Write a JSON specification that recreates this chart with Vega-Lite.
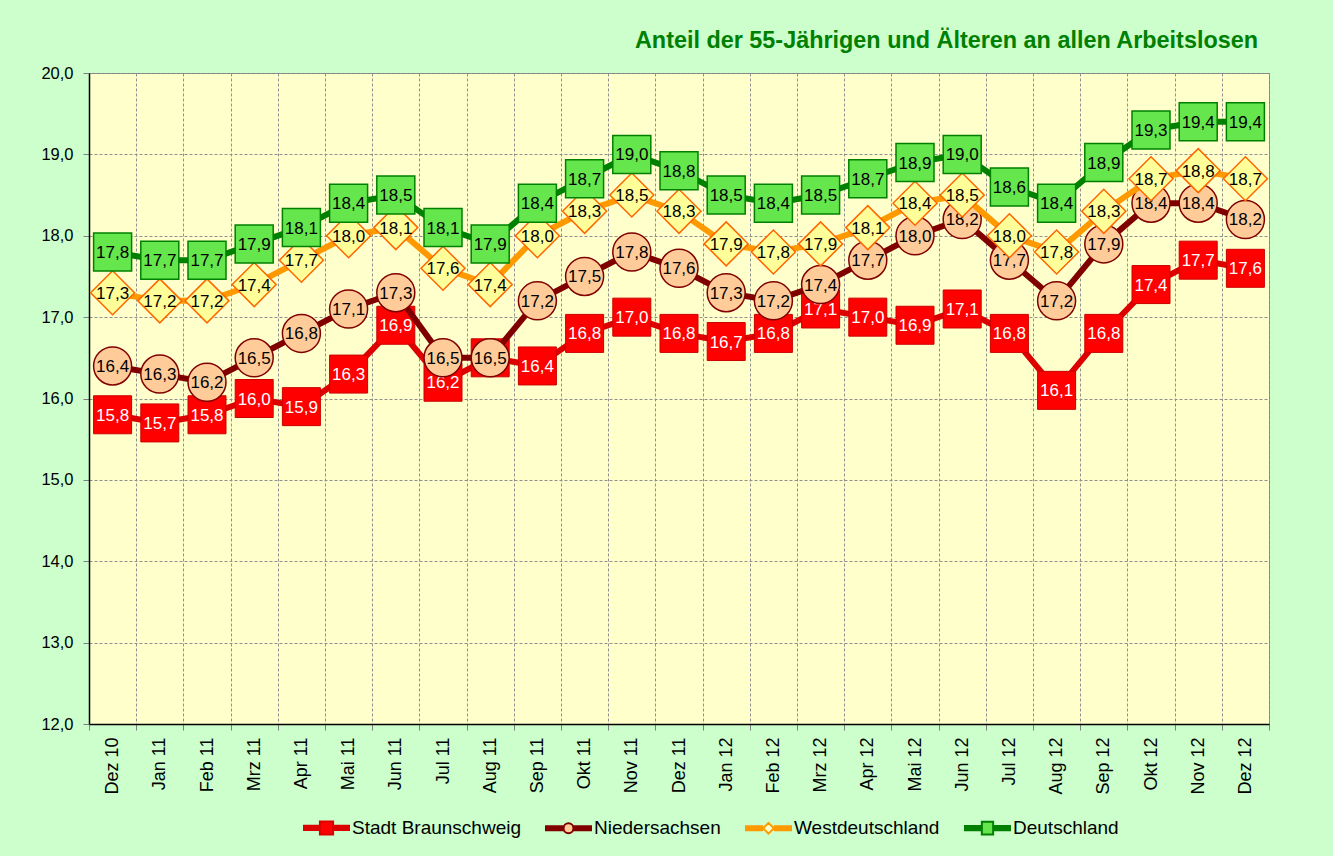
{
  "$schema": "https://vega.github.io/schema/vega-lite/v6.json",
  "width": 1180,
  "height": 651,
  "autosize": {"type": "none"},
  "padding": {"left": 89, "top": 73, "right": 64, "bottom": 132},
  "background": "#CCFFCC",
  "title": {
    "text": "Anteil der 55-Jährigen und Älteren an allen Arbeitslosen",
    "anchor": "end", "frame": "group", "baseline": "alphabetic", "offset": 25, "dx": -11, "dy": 31,
    "font": "Liberation Sans", "fontSize": 23.4, "fontWeight": "bold", "color": "#008000"
  },
  "data": {"values": [
    {"monat":"Dez 10","reihe":"Stadt Braunschweig","wert":15.8},{"monat":"Jan 11","reihe":"Stadt Braunschweig","wert":15.7},{"monat":"Feb 11","reihe":"Stadt Braunschweig","wert":15.8},{"monat":"Mrz 11","reihe":"Stadt Braunschweig","wert":16.0},{"monat":"Apr 11","reihe":"Stadt Braunschweig","wert":15.9},{"monat":"Mai 11","reihe":"Stadt Braunschweig","wert":16.3},{"monat":"Jun 11","reihe":"Stadt Braunschweig","wert":16.9},{"monat":"Jul 11","reihe":"Stadt Braunschweig","wert":16.2},{"monat":"Aug 11","reihe":"Stadt Braunschweig","wert":16.5},{"monat":"Sep 11","reihe":"Stadt Braunschweig","wert":16.4},{"monat":"Okt 11","reihe":"Stadt Braunschweig","wert":16.8},{"monat":"Nov 11","reihe":"Stadt Braunschweig","wert":17.0},{"monat":"Dez 11","reihe":"Stadt Braunschweig","wert":16.8},{"monat":"Jan 12","reihe":"Stadt Braunschweig","wert":16.7},{"monat":"Feb 12","reihe":"Stadt Braunschweig","wert":16.8},{"monat":"Mrz 12","reihe":"Stadt Braunschweig","wert":17.1},{"monat":"Apr 12","reihe":"Stadt Braunschweig","wert":17.0},{"monat":"Mai 12","reihe":"Stadt Braunschweig","wert":16.9},{"monat":"Jun 12","reihe":"Stadt Braunschweig","wert":17.1},{"monat":"Jul 12","reihe":"Stadt Braunschweig","wert":16.8},{"monat":"Aug 12","reihe":"Stadt Braunschweig","wert":16.1},{"monat":"Sep 12","reihe":"Stadt Braunschweig","wert":16.8},{"monat":"Okt 12","reihe":"Stadt Braunschweig","wert":17.4},{"monat":"Nov 12","reihe":"Stadt Braunschweig","wert":17.7},{"monat":"Dez 12","reihe":"Stadt Braunschweig","wert":17.6},
    {"monat":"Dez 10","reihe":"Niedersachsen","wert":16.4},{"monat":"Jan 11","reihe":"Niedersachsen","wert":16.3},{"monat":"Feb 11","reihe":"Niedersachsen","wert":16.2},{"monat":"Mrz 11","reihe":"Niedersachsen","wert":16.5},{"monat":"Apr 11","reihe":"Niedersachsen","wert":16.8},{"monat":"Mai 11","reihe":"Niedersachsen","wert":17.1},{"monat":"Jun 11","reihe":"Niedersachsen","wert":17.3},{"monat":"Jul 11","reihe":"Niedersachsen","wert":16.5},{"monat":"Aug 11","reihe":"Niedersachsen","wert":16.5},{"monat":"Sep 11","reihe":"Niedersachsen","wert":17.2},{"monat":"Okt 11","reihe":"Niedersachsen","wert":17.5},{"monat":"Nov 11","reihe":"Niedersachsen","wert":17.8},{"monat":"Dez 11","reihe":"Niedersachsen","wert":17.6},{"monat":"Jan 12","reihe":"Niedersachsen","wert":17.3},{"monat":"Feb 12","reihe":"Niedersachsen","wert":17.2},{"monat":"Mrz 12","reihe":"Niedersachsen","wert":17.4},{"monat":"Apr 12","reihe":"Niedersachsen","wert":17.7},{"monat":"Mai 12","reihe":"Niedersachsen","wert":18.0},{"monat":"Jun 12","reihe":"Niedersachsen","wert":18.2},{"monat":"Jul 12","reihe":"Niedersachsen","wert":17.7},{"monat":"Aug 12","reihe":"Niedersachsen","wert":17.2},{"monat":"Sep 12","reihe":"Niedersachsen","wert":17.9},{"monat":"Okt 12","reihe":"Niedersachsen","wert":18.4},{"monat":"Nov 12","reihe":"Niedersachsen","wert":18.4},{"monat":"Dez 12","reihe":"Niedersachsen","wert":18.2},
    {"monat":"Dez 10","reihe":"Westdeutschland","wert":17.3},{"monat":"Jan 11","reihe":"Westdeutschland","wert":17.2},{"monat":"Feb 11","reihe":"Westdeutschland","wert":17.2},{"monat":"Mrz 11","reihe":"Westdeutschland","wert":17.4},{"monat":"Apr 11","reihe":"Westdeutschland","wert":17.7},{"monat":"Mai 11","reihe":"Westdeutschland","wert":18.0},{"monat":"Jun 11","reihe":"Westdeutschland","wert":18.1},{"monat":"Jul 11","reihe":"Westdeutschland","wert":17.6},{"monat":"Aug 11","reihe":"Westdeutschland","wert":17.4},{"monat":"Sep 11","reihe":"Westdeutschland","wert":18.0},{"monat":"Okt 11","reihe":"Westdeutschland","wert":18.3},{"monat":"Nov 11","reihe":"Westdeutschland","wert":18.5},{"monat":"Dez 11","reihe":"Westdeutschland","wert":18.3},{"monat":"Jan 12","reihe":"Westdeutschland","wert":17.9},{"monat":"Feb 12","reihe":"Westdeutschland","wert":17.8},{"monat":"Mrz 12","reihe":"Westdeutschland","wert":17.9},{"monat":"Apr 12","reihe":"Westdeutschland","wert":18.1},{"monat":"Mai 12","reihe":"Westdeutschland","wert":18.4},{"monat":"Jun 12","reihe":"Westdeutschland","wert":18.5},{"monat":"Jul 12","reihe":"Westdeutschland","wert":18.0},{"monat":"Aug 12","reihe":"Westdeutschland","wert":17.8},{"monat":"Sep 12","reihe":"Westdeutschland","wert":18.3},{"monat":"Okt 12","reihe":"Westdeutschland","wert":18.7},{"monat":"Nov 12","reihe":"Westdeutschland","wert":18.8},{"monat":"Dez 12","reihe":"Westdeutschland","wert":18.7},
    {"monat":"Dez 10","reihe":"Deutschland","wert":17.8},{"monat":"Jan 11","reihe":"Deutschland","wert":17.7},{"monat":"Feb 11","reihe":"Deutschland","wert":17.7},{"monat":"Mrz 11","reihe":"Deutschland","wert":17.9},{"monat":"Apr 11","reihe":"Deutschland","wert":18.1},{"monat":"Mai 11","reihe":"Deutschland","wert":18.4},{"monat":"Jun 11","reihe":"Deutschland","wert":18.5},{"monat":"Jul 11","reihe":"Deutschland","wert":18.1},{"monat":"Aug 11","reihe":"Deutschland","wert":17.9},{"monat":"Sep 11","reihe":"Deutschland","wert":18.4},{"monat":"Okt 11","reihe":"Deutschland","wert":18.7},{"monat":"Nov 11","reihe":"Deutschland","wert":19.0},{"monat":"Dez 11","reihe":"Deutschland","wert":18.8},{"monat":"Jan 12","reihe":"Deutschland","wert":18.5},{"monat":"Feb 12","reihe":"Deutschland","wert":18.4},{"monat":"Mrz 12","reihe":"Deutschland","wert":18.5},{"monat":"Apr 12","reihe":"Deutschland","wert":18.7},{"monat":"Mai 12","reihe":"Deutschland","wert":18.9},{"monat":"Jun 12","reihe":"Deutschland","wert":19.0},{"monat":"Jul 12","reihe":"Deutschland","wert":18.6},{"monat":"Aug 12","reihe":"Deutschland","wert":18.4},{"monat":"Sep 12","reihe":"Deutschland","wert":18.9},{"monat":"Okt 12","reihe":"Deutschland","wert":19.3},{"monat":"Nov 12","reihe":"Deutschland","wert":19.4},{"monat":"Dez 12","reihe":"Deutschland","wert":19.4}
  ]},
  "encoding": {
    "x": {
      "field": "monat", "type": "nominal", "title": null,
      "scale": {"type": "band", "paddingInner": 0, "paddingOuter": 0,
        "domain": ["Dez 10","Jan 11","Feb 11","Mrz 11","Apr 11","Mai 11","Jun 11","Jul 11","Aug 11","Sep 11","Okt 11","Nov 11","Dez 11","Jan 12","Feb 12","Mrz 12","Apr 12","Mai 12","Jun 12","Jul 12","Aug 12","Sep 12","Okt 12","Nov 12","Dez 12"]},
      "axis": {
        "labelAngle": -90, "labelFontSize": 18, "labelColor": "#000000", "labelPadding": 7,
        "tickBand": "extent", "tickSize": 6, "tickColor": "#808080",
        "domainColor": "#000000", "domainWidth": 1.5,
        "grid": true, "gridColor": "#909090", "gridDash": [3, 2], "gridWidth": 1
      }
    },
    "y": {
      "field": "wert", "type": "quantitative", "title": null,
      "scale": {"domain": [12, 20], "nice": false, "zero": false},
      "axis": {
        "values": [12, 13, 14, 15, 16, 17, 18, 19, 20], "format": ".1f",
        "labelFontSize": 16.5, "labelColor": "#000000", "labelPadding": 10,
        "tickSize": 6, "tickColor": "#808080",
        "domainColor": "#000000", "domainWidth": 1.5,
        "grid": true, "gridColor": "#909090", "gridDash": [3, 2], "gridWidth": 1
      }
    }
  },
  "layer": [
    {
      "transform": [{"filter": "datum.reihe === 'Stadt Braunschweig'"}],
      "layer": [
        {"mark": {"type": "line", "strokeWidth": 6},
         "encoding": {"color": {"field": "reihe", "type": "nominal",
           "scale": {"domain": ["Stadt Braunschweig", "Niedersachsen", "Westdeutschland", "Deutschland"], "range": ["#DD0000", "#800000", "#FF9900", "#008000"]},
           "legend": {"orient": "none", "legendX": 213, "legendY": 730, "direction": "horizontal", "title": null,
             "symbolSize": 2209, "symbolStrokeWidth": 2, "symbolOpacity": 1, "labelFont": "Liberation Sans", "labelFontSize": 19, "labelColor": "#000000", "labelOffset": 1, "columnPadding": 20, "labelLimit": 400,
             "symbolType": {"expr": "datum.value === 'Niedersachsen' ? 'M-1,0H-0.21M-1,0.045H-0.21M-1,-0.045H-0.21M-1,0.09H-0.21M-1,-0.09H-0.21M0.21,0H1M0.21,0.045H1M0.21,-0.045H1M0.21,0.09H1M0.21,-0.09H1M0.21,0A0.21,0.21,0,1,1,-0.21,0A0.21,0.21,0,1,1,0.21,0Z' : datum.value === 'Westdeutschland' ? 'M-1,0H-0.23M-1,0.045H-0.23M-1,-0.045H-0.23M-1,0.09H-0.23M-1,-0.09H-0.23M0.23,0H1M0.23,0.045H1M0.23,-0.045H1M0.23,0.09H1M0.23,-0.09H1M0,-0.23L0.23,0L0,0.23L-0.23,0Z' : datum.value === 'Deutschland' ? 'M-1,0H-0.24M-1,0.045H-0.24M-1,-0.045H-0.24M-1,0.09H-0.24M-1,-0.09H-0.24M0.24,0H1M0.24,0.045H1M0.24,-0.045H1M0.24,0.09H1M0.24,-0.09H1M-0.24,-0.27H0.24V0.27H-0.24Z' : 'M-1,0H-0.28M-1,0.045H-0.28M-1,-0.045H-0.28M-1,0.09H-0.28M-1,-0.09H-0.28M0.28,0H1M0.28,0.045H1M0.28,-0.045H1M0.28,0.09H1M0.28,-0.09H1M-0.28,-0.28H0.28V0.28H-0.28Z'"},
             "symbolFillColor": {"expr": "datum.value === 'Niedersachsen' ? '#FFCC99' : datum.value === 'Westdeutschland' ? '#FFFFCC' : datum.value === 'Deutschland' ? '#66E64D' : '#FF0000'"}
           }}}},
        {"mark": {"type": "point", "shape": "square", "size": 1444, "filled": true, "fill": "#FF0000", "stroke": "#CC0000", "strokeWidth": 1, "opacity": 1}},
        {"mark": {"type": "text", "font": "Liberation Sans", "fontSize": 17, "color": "#FFFFFF", "align": "center", "baseline": "middle", "dy": 1},
         "encoding": {"text": {"field": "wert", "type": "quantitative", "format": ".1f"}}}
      ]
    },
    {
      "transform": [{"filter": "datum.reihe === 'Niedersachsen'"}],
      "layer": [
        {"mark": {"type": "line", "strokeWidth": 6},
         "encoding": {"color": {"field": "reihe", "type": "nominal",
           "scale": {"domain": ["Stadt Braunschweig", "Niedersachsen", "Westdeutschland", "Deutschland"], "range": ["#DD0000", "#800000", "#FF9900", "#008000"]}}}},
        {"mark": {"type": "point", "shape": "circle", "size": 1444, "filled": true, "fill": "#FFCC99", "stroke": "#800000", "strokeWidth": 1.5, "opacity": 1}},
        {"mark": {"type": "text", "font": "Liberation Sans", "fontSize": 17, "color": "#000000", "align": "center", "baseline": "middle", "dy": 1},
         "encoding": {"text": {"field": "wert", "type": "quantitative", "format": ".1f"}}}
      ]
    },
    {
      "transform": [{"filter": "datum.reihe === 'Westdeutschland'"}],
      "layer": [
        {"mark": {"type": "line", "strokeWidth": 6},
         "encoding": {"color": {"field": "reihe", "type": "nominal",
           "scale": {"domain": ["Stadt Braunschweig", "Niedersachsen", "Westdeutschland", "Deutschland"], "range": ["#DD0000", "#800000", "#FF9900", "#008000"]}}}},
        {"mark": {"type": "point", "shape": "diamond", "size": 1936, "filled": true, "fill": "#FFFF99", "stroke": "#FF6600", "strokeWidth": 1.5, "opacity": 1}},
        {"mark": {"type": "text", "font": "Liberation Sans", "fontSize": 17, "color": "#000000", "align": "center", "baseline": "middle", "dy": 1},
         "encoding": {"text": {"field": "wert", "type": "quantitative", "format": ".1f"}}}
      ]
    },
    {
      "transform": [{"filter": "datum.reihe === 'Deutschland'"}],
      "layer": [
        {"mark": {"type": "line", "strokeWidth": 6},
         "encoding": {"color": {"field": "reihe", "type": "nominal",
           "scale": {"domain": ["Stadt Braunschweig", "Niedersachsen", "Westdeutschland", "Deutschland"], "range": ["#DD0000", "#800000", "#FF9900", "#008000"]}}}},
        {"mark": {"type": "point", "shape": "square", "size": 1444, "filled": true, "fill": "#66E64D", "stroke": "#008000", "strokeWidth": 1.5, "opacity": 1}},
        {"mark": {"type": "text", "font": "Liberation Sans", "fontSize": 17, "color": "#000000", "align": "center", "baseline": "middle", "dy": 1},
         "encoding": {"text": {"field": "wert", "type": "quantitative", "format": ".1f"}}}
      ]
    }
  ],
  "config": {
    "font": "Liberation Sans",
    "locale": {"number": {"decimal": ",", "thousands": ".", "grouping": [3], "currency": ["", " €"]}},
    "view": {"fill": "#FFFFCC", "stroke": "#808080", "strokeWidth": 1},
    "axis": {"labelFont": "Liberation Sans"},
    "legend": {"labelFont": "Liberation Sans"}
  }
}
